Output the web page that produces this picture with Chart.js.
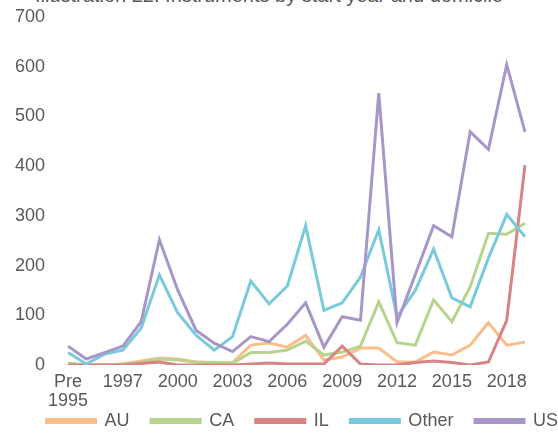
<!DOCTYPE html>
<html>
<head>
<meta charset="utf-8">
<script src="https://cdn.jsdelivr.net/npm/chart.js@4"></script>
<style>
  html, body { margin: 0; padding: 0; background: #fff; overflow: hidden; }
  #wrap { position: relative; width: 558px; height: 433px; overflow: hidden; }
  #title {
    position: absolute; right: 55px; top: -15px;
    font: 20px "Liberation Sans", Arial, sans-serif; line-height: 20px;
    color: #595959; white-space: nowrap;
  }
  canvas { position: absolute; left: 0; top: 0; }
</style>
</head>
<body>
<div id="wrap">
  <div id="title">Illustration 22: Instruments by start year and domicile</div>
  <canvas id="lineChart" width="558" height="433"></canvas>
</div>
<script>
// 年份分類
const years = ['Pre 1995', '1995', '1996', '1997', '1998', '1999', '2000', '2001', '2002',
  '2003', '2004', '2005', '2006', '2007', '2008', '2009', '2010', '2011', '2012',
  '2013', '2014', '2015', '2016', '2017', '2018', '2019'];

// 各地區的數值
const au = [0, 0, 0, 2, 8, 14, 12, 6, 5, 5, 40, 44, 36, 60, 10, 16, 34, 34, 6, 6, 26, 20, 40, 85, 40, 46];
const ca = [4, 0, 0, 2, 5, 12, 10, 6, 4, 3, 25, 25, 30, 48, 20, 26, 38, 127, 45, 40, 131, 87, 157, 265, 263, 285];
const il = [0, 0, 0, 0, 3, 6, 0, 0, 0, 0, 2, 4, 2, 2, 2, 38, 2, 0, 0, 5, 8, 5, 0, 6, 90, 402];
const other = [25, 2, 22, 30, 74, 181, 105, 60, 30, 57, 169, 123, 159, 280, 110, 125, 177, 272, 97, 150, 233, 135, 117, 215, 303, 258];
const us = [38, 12, 25, 38, 87, 252, 151, 70, 44, 27, 57, 47, 82, 125, 36, 97, 90, 547, 85, 182, 280, 258, 469, 434, 604, 469];

const yTicks = [0, 100, 200, 300, 400, 500, 600, 700];

const FONT = '"Liberation Sans", Arial, sans-serif';
const GREY = '#595959';
const PLOT_BOTTOM = 365;   // 圖區底線
const LEGEND_DROP = 7;     // 圖例往下推

function series(label, data, color, order) {
  return {
    label: label,
    data: data,
    borderColor: color,
    backgroundColor: color,
    borderWidth: 3,
    pointRadius: 0,
    tension: 0,
    order: order
  };
}

window.addEventListener('load', function() {
  const ctx = document.getElementById('lineChart').getContext('2d');
  new Chart(ctx, {
    type: 'line',
    data: {
      labels: years.map(y => y === 'Pre 1995' ? ['Pre', '1995'] : y),
      datasets: [
        series('AU', au, 'rgb(250, 190, 140)', 4),
        series('CA', ca, 'rgb(184, 212, 140)', 3),
        series('IL', il, 'rgb(216, 132, 132)', 2),
        series('Other', other, 'rgb(122, 202, 222)', 1),
        series('US', us, 'rgb(168, 150, 200)', 0)
      ]
    },
    options: {
      responsive: false,
      animation: false,
      layout: { padding: { left: 0, right: 0, top: 17, bottom: -LEGEND_DROP } },
      scales: {
        x: {
          offset: false,
          grid: { display: false, drawTicks: false },
          border: { display: false },
          afterFit: scale => {
            scale.paddingRight = 33;
            scale.height = scale.chart.height + LEGEND_DROP - PLOT_BOTTOM - scale.chart.legend.height;
          },
          ticks: {
            autoSkip: false,
            maxRotation: 0,
            padding: 8,
            color: GREY,
            font: { family: FONT, size: 18, lineHeight: 1.05 },
            callback: function(value, index) {
              return index % 3 === 0 ? this.getLabelForValue(value) : '';
            }
          }
        },
        y: {
          min: 0,
          max: 700,
          grid: { display: false, drawTicks: false },
          border: { display: false },
          afterBuildTicks: scale => { scale.ticks = yTicks.map(v => ({ value: v })); },
          afterFit: scale => {
            scale.width = 68;
            scale.paddingTop = 0;
            scale.paddingBottom = 0;
          },
          ticks: {
            padding: 23,
            color: GREY,
            font: { family: FONT, size: 18 }
          }
        }
      },
      plugins: {
        legend: {
          position: 'bottom',
          align: 'end',
          labels: {
            boxWidth: 49,
            boxHeight: 3,
            padding: 0,
            color: GREY,
            font: { family: FONT, size: 18, lineHeight: 1 },
            sort: (a, b) => a.datasetIndex - b.datasetIndex,
            generateLabels: function(chart) {
              const original = Chart.defaults.plugins.legend.labels.generateLabels;
              const items = original.call(this, chart);
              items.forEach(item => {
                if (item.datasetIndex !== 4) item.text = item.text + '\u2003\u2009';
              });
              return items;
            }
          }
        },
        tooltip: { enabled: false }
      }
    }
  });
});
</script>
</body>
</html>
